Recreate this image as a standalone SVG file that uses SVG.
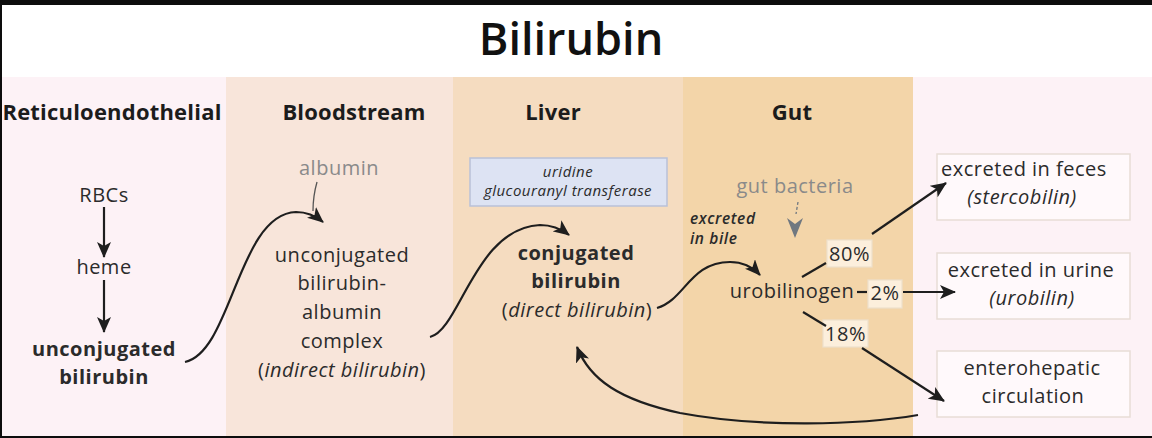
<svg xmlns="http://www.w3.org/2000/svg" width="1152" height="438" viewBox="0 0 1152 438">
<defs>
<style>
.t{font-family:"Open Sans","Liberation Sans",sans-serif;fill:#2b2b2b;text-anchor:middle;font-size:20px;letter-spacing:0.5px}
.b{font-weight:700}
.h{font-family:"Open Sans","Liberation Sans",sans-serif;fill:#1c1c1c;font-weight:700;font-size:22px;letter-spacing:0.2px;text-anchor:middle}
.g{fill:#8a8a8a}
.i{font-style:italic}
.sm{font-size:15px;letter-spacing:0.5px}
.bl{font-family:"Open Sans","Liberation Sans",sans-serif;fill:#2b2b2b;font-style:italic;font-weight:600;font-size:15.5px;letter-spacing:0.6px}
.c{fill:none;stroke:#1e1e1e;stroke-width:2.2}
.lb{fill:#fcefdc;stroke:#ede0cc;stroke-width:1.2}
.rb{fill:#fff9fb;stroke:#e8ddd6;stroke-width:1.5}
</style>
<marker id="ah" viewBox="0 0 16 14" refX="15" refY="7" markerWidth="16" markerHeight="14" markerUnits="userSpaceOnUse" orient="auto">
<path d="M0,0 L16,7 L0,14 L4,7 z" fill="#1e1e1e"/>
</marker>
</defs>
<rect x="0" y="0" width="1152" height="438" fill="#ffffff"/>
<rect x="0" y="77" width="226" height="361" fill="#fdf2f6"/>
<rect x="226" y="77" width="227" height="361" fill="#f8e5da"/>
<rect x="453" y="77" width="230" height="361" fill="#f5dcc0"/>
<rect x="683" y="77" width="230" height="361" fill="#f3d5a9"/>
<rect x="913" y="77" width="239" height="361" fill="#fdf2f6"/>
<rect x="0" y="0" width="1152" height="5" fill="#0d0d0d"/>
<rect x="0" y="0" width="2" height="438" fill="#0d0d0d"/>
<rect x="0" y="436" width="1152" height="2" fill="#0d0d0d"/>
<text x="571" y="55" font-family="Open Sans, Liberation Sans, sans-serif" font-weight="600" font-size="45" fill="#111" text-anchor="middle">Bilirubin</text>
<g id="headers">
<text class="h" x="112" y="120">Reticuloendothelial</text>
<text class="h" x="354" y="120">Bloodstream</text>
<text class="h" x="553" y="120">Liver</text>
<text class="h" x="792" y="120">Gut</text>
</g>
<g id="rbcs"><text class="t" x="104" y="202">RBCs</text></g>
<g id="heme"><text class="t" x="104" y="274">heme</text></g>
<g id="unconj"><text class="t b" x="104" y="356">unconjugated</text><text class="t b" x="104" y="384">bilirubin</text></g>
<g id="albumin"><text class="t g" x="339" y="175">albumin</text></g>
<g id="complex">
<text class="t" x="342" y="262">unconjugated</text>
<text class="t" x="342" y="290">bilirubin-</text>
<text class="t" x="342" y="319">albumin</text>
<text class="t" x="342" y="348">complex</text>
<text class="t" x="342" y="377">(<tspan class="i">indirect bilirubin</tspan>)</text>
</g>
<g id="enzyme">
<rect x="470" y="158" width="197" height="48" fill="#dde3f3" stroke="#b9c1d8" stroke-width="1.5"/>
<text class="t i sm" x="568" y="177">uridine</text>
<text class="t i sm" x="568" y="196">glucouranyl transferase</text>
</g>
<g id="conj">
<text class="t b" x="576" y="260">conjugated</text>
<text class="t b" x="576" y="288">bilirubin</text>
<text class="t" x="577" y="317">(<tspan class="i">direct bilirubin</tspan>)</text>
</g>
<g id="bile"><text class="bl" x="690" y="224">excreted</text><text class="bl" x="690" y="244">in bile</text></g>
<g id="bacteria"><text class="t g" x="795" y="193">gut bacteria</text></g>
<g id="urobilinogen"><text class="t" x="792" y="298">urobilinogen</text></g>
<g id="p80"><rect class="lb" x="827" y="240" width="45" height="27"/><text class="t" x="849.5" y="261">80%</text></g>
<g id="p2"><rect class="lb" x="868" y="280" width="34" height="28"/><text class="t" x="885" y="300">2%</text></g>
<g id="p18"><rect class="lb" x="823" y="320" width="45" height="27"/><text class="t" x="845.5" y="341">18%</text></g>
<g id="feces"><rect class="rb" x="937" y="154" width="193" height="66"/><text class="t" x="1024" y="176">excreted in feces</text><text class="t i" x="1022" y="204">(stercobilin)</text></g>
<g id="urine"><rect class="rb" x="937" y="253" width="193" height="66"/><text class="t" x="1031" y="277">excreted in urine</text><text class="t i" x="1032" y="305">(urobilin)</text></g>
<g id="entero"><rect class="rb" x="937" y="351" width="193" height="66"/><text class="t" x="1032" y="375">enterohepatic</text><text class="t" x="1033" y="403">circulation</text></g>
<g id="connectors">
<line class="c" x1="104" y1="207" x2="104" y2="257" marker-end="url(#ah)"/>
<line class="c" x1="104" y1="280" x2="104" y2="332" marker-end="url(#ah)"/>
<path class="c" d="M185,362 C232,352 238,214 296,212 Q311,212 323,222" marker-end="url(#ah)"/>
<path d="M317,182 Q313,196 313,211" fill="none" stroke="#555" stroke-width="1.3"/>
<path class="c" d="M430,337 C460,330 475,228 540,225 Q556,225 569,235" marker-end="url(#ah)"/>
<path class="c" d="M657,308 C685,300 690,262 730,262 Q748,262 760,275" marker-end="url(#ah)"/>
<path d="M798,202 L796,214" fill="none" stroke="#707880" stroke-width="1.3" stroke-dasharray="3,2"/>
<polygon points="787,218 795,224 803,218 795,238" fill="#707880"/>
<line class="c" x1="802" y1="277" x2="826" y2="263"/>
<line class="c" x1="872" y1="234" x2="946" y2="183" marker-end="url(#ah)"/>
<line class="c" x1="857" y1="292" x2="867" y2="292"/>
<line class="c" x1="903" y1="292" x2="955" y2="292" marker-end="url(#ah)"/>
<line class="c" x1="803" y1="312" x2="826" y2="326"/>
<line class="c" x1="862" y1="348" x2="944" y2="401" marker-end="url(#ah)"/>
<path class="c" d="M918,415 C860,425 760,428 680,413 C620,400 590,380 577,347" marker-end="url(#ah)"/>
</g>
</svg>
